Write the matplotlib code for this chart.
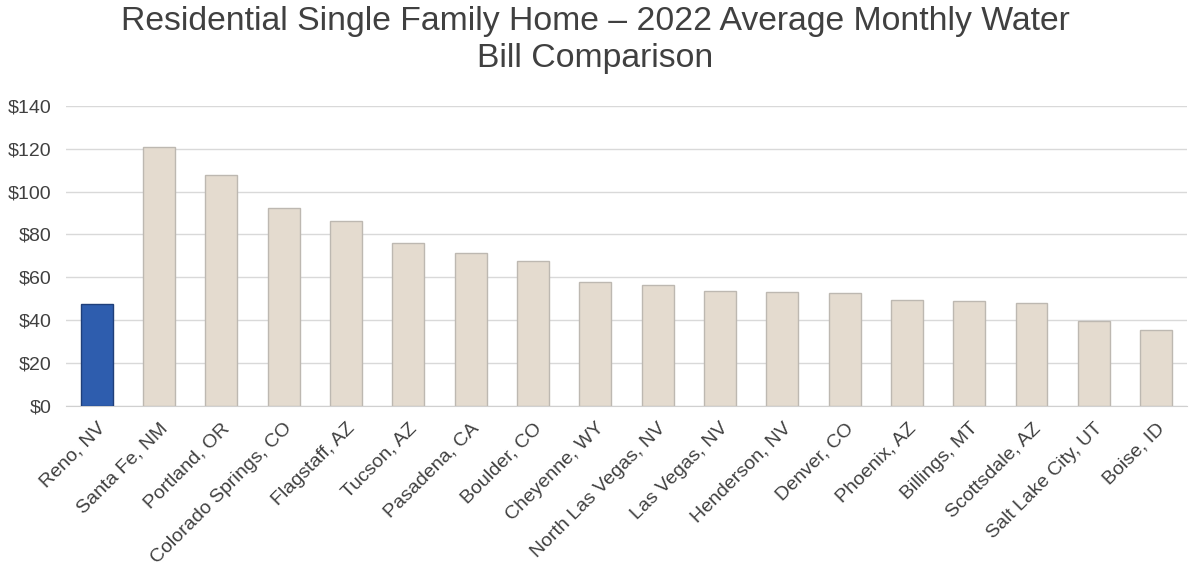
import matplotlib.pyplot as plt
import numpy as np

plt.rcParams['font.family'] = ['Liberation Sans', 'DejaVu Sans']

cities = ['Reno, NV', 'Santa Fe, NM', 'Portland, OR', 'Colorado Springs, CO',
          'Flagstaff, AZ', 'Tucson, AZ', 'Pasadena, CA', 'Boulder, CO',
          'Cheyenne, WY', 'North Las Vegas, NV', 'Las Vegas, NV', 'Henderson, NV',
          'Denver, CO', 'Phoenix, AZ', 'Billings, MT', 'Scottsdale, AZ',
          'Salt Lake City, UT', 'Boise, ID']
bills = [47.5, 121, 108, 92.5, 86.5, 76, 71.5, 67.5, 58, 56.5, 53.5, 53,
         52.5, 49.5, 49, 48, 39.5, 35.5]
yticks = [0, 20, 40, 60, 80, 100, 120, 140]

fig = plt.figure(figsize=(11.91, 5.79), dpi=100)
ax = fig.add_axes([0.055, 0.299, 0.942, 0.518])

x = np.arange(len(cities))
colors = ['#2E5DAE'] + ['#E4DBCF'] * (len(cities) - 1)
edges = ['#1F3F7A'] + ['#BDB8B1'] * (len(cities) - 1)
ax.bar(x, bills, width=0.51, color=colors, edgecolor=edges, linewidth=1.0, zorder=3)

ax.set_xlim(-0.5, len(cities) - 0.5)
ax.set_ylim(0, 140)
ax.set_yticks(yticks)
ax.set_yticklabels(['$%d' % v for v in yticks], fontsize=14, color='#404040')
ax.set_xticks(x)
ax.set_xticklabels(cities, rotation=45, ha='right', rotation_mode='anchor',
                   fontsize=14, color='#404040')
ax.tick_params(axis='x', length=0, pad=10)
ax.tick_params(axis='y', length=0, pad=10)

ax.grid(axis='y', color='#D9D9D9', linewidth=1.0, zorder=0)
for s in ['top', 'right', 'left']:
    ax.spines[s].set_visible(False)
ax.spines['bottom'].set_color('#D0D0D0')

fig.suptitle('Residential Single Family Home \u2013 2022 Average Monthly Water\nBill Comparison',
             fontsize=24.3, color='#404040', y=0.99, linespacing=1.25)

fig.savefig('out.png', dpi=100, facecolor='white')
